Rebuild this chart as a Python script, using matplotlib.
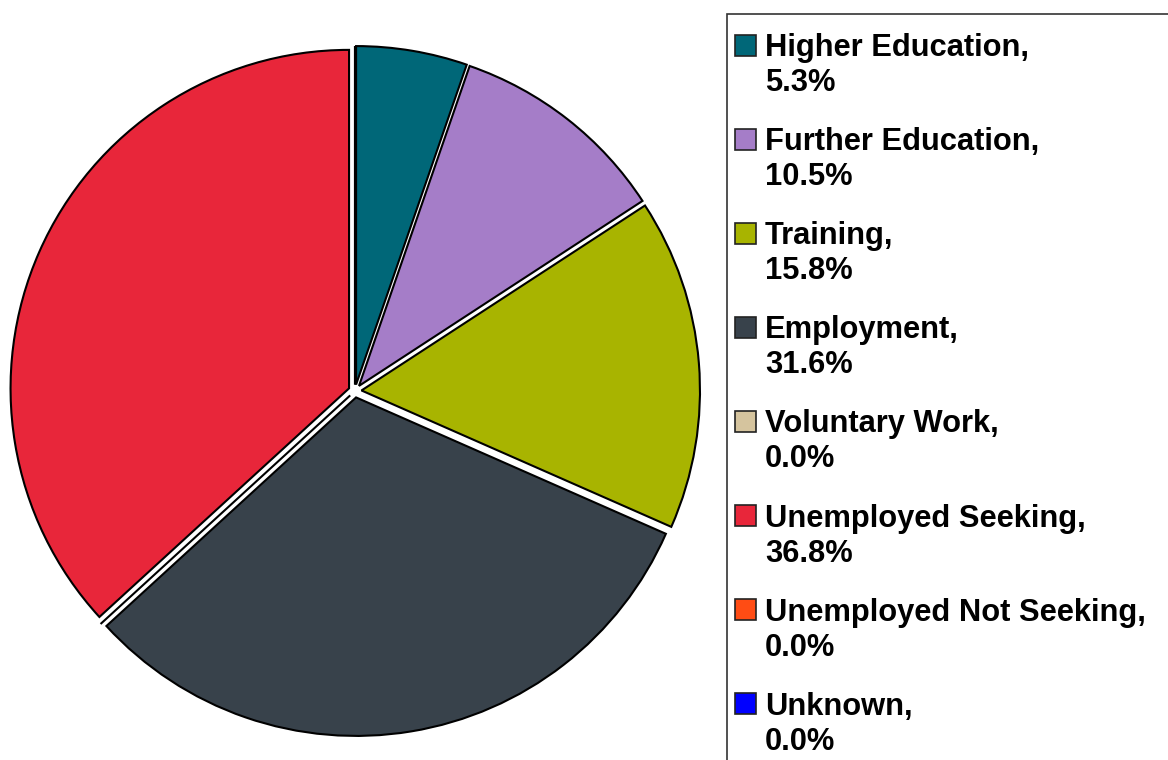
import matplotlib
matplotlib.use('Agg')
import matplotlib.pyplot as plt
from matplotlib.patches import Rectangle

plt.rcParams['font.family'] = ['Liberation Sans', 'DejaVu Sans']

categories = ['Higher Education', 'Further Education', 'Training', 'Employment',
              'Voluntary Work', 'Unemployed Seeking', 'Unemployed Not Seeking', 'Unknown']
shares = [5.3, 10.5, 15.8, 31.6, 0.0, 36.8, 0.0, 0.0]
colours = ['#006778', '#A57DC8', '#A8B400', '#38424B',
           '#D5C49E', '#E8263A', '#FF4C14', '#0000FF']

W, H = 1168, 760
fig = plt.figure(figsize=(W / 100, H / 100), dpi=100)
ax = fig.add_axes([0, 0, 1, 1])

# explode is in data units here (axes are in pixels)
ax.pie(shares, colors=colours, startangle=90, counterclock=False,
       center=(355, H - 391), radius=338.5, explode=[6.5] * len(shares),
       wedgeprops=dict(edgecolor='black', linewidth=1.5), frame=True)
ax.set_xlim(0, W)
ax.set_ylim(0, H)
ax.set_aspect('equal')
ax.axis('off')

# legend box running off the right and bottom edges
ax.add_patch(Rectangle((727, -20), 500, H - 14 + 20, facecolor='none',
                       edgecolor='#333333', linewidth=1.2, clip_on=False))

top = 56      # baseline of first legend line (pixels from top)
step = 94.1
for i, (name, val, col) in enumerate(zip(categories, shares, colours)):
    base = top + i * step
    ax.add_patch(Rectangle((735, H - base + 0.5), 21, 21, facecolor=col,
                           edgecolor='#222222', linewidth=1.2))
    ax.text(765, H - base, name + ',', fontsize=22.2, fontweight='bold',
            va='baseline', ha='left')
    ax.text(765, H - base - 35, '%.1f%%' % val, fontsize=22.2, fontweight='bold',
            va='baseline', ha='left')

fig.savefig('out.png', dpi=100)
